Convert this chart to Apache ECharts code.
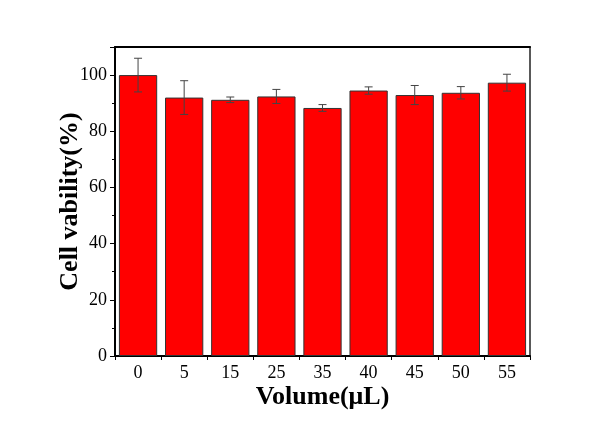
<!DOCTYPE html>
<html>
<head>
<meta charset="utf-8">
<script src="https://cdn.jsdelivr.net/npm/echarts@6/dist/echarts.min.js"></script>
<style>
  html, body { margin: 0; padding: 0; background: #fff; }
  #chart { width: 602px; height: 421px; }
</style>
</head>
<body>
<div id="chart"></div>
<script>
// Sample volumes (µL)
const volumes = ['0', '5', '15', '25', '35', '40', '45', '50', '55'];
// Mean cell viability (%)
const viability = [100.0, 92.0, 91.2, 92.4, 88.3, 94.5, 92.9, 93.7, 97.3];
// Standard deviation (%)
const deviation = [6.0, 6.0, 1.0, 2.5, 1.2, 1.3, 3.4, 2.2, 3.0];
// Y-axis scale
const yMin = 0, yMax = 110, yStep = 20;

const serif = '"Liberation Serif", "Times New Roman", serif';
const errorData = volumes.map((v, i) => [i, viability[i] - deviation[i], viability[i] + deviation[i]]);

const chart = echarts.init(document.getElementById('chart'), null, { renderer: 'canvas' });
chart.setOption({
  backgroundColor: '#fff',
  animation: false,
  grid: { left: 115, right: 72, top: 47, bottom: 65, show: true, borderColor: '#000', borderWidth: 0 },
  xAxis: [
    {
      type: 'category', data: volumes, position: 'bottom',
      name: 'Volume(μL)', nameLocation: 'middle', nameGap: 28, nameMoveOverlap: false,
      nameTextStyle: { fontFamily: serif, fontWeight: 'bold', fontSize: 26, color: '#000' },
      axisLine: { lineStyle: { color: '#000', width: 2 } },
      axisTick: { alignWithLabel: true, inside: false, length: 5, lineStyle: { color: '#000', width: 1 } },
      axisLabel: { fontFamily: serif, fontSize: 18, color: '#000', margin: 8 }
    },
    {
      // boundary ticks between categories
      type: 'category', data: volumes, position: 'bottom', offset: 0,
      axisLine: { show: false },
      axisTick: { show: true, length: 4, lineStyle: { color: '#000', width: 1 } },
      axisLabel: { show: false }
    },
    {
      // top frame line
      type: 'category', data: volumes, position: 'top',
      axisLine: { lineStyle: { color: '#000', width: 2 } },
      axisTick: { show: false }, axisLabel: { show: false }
    }
  ],
  yAxis: [
    {
      type: 'value', min: yMin, max: yMax, interval: yStep,
      name: 'Cell vability(%)', nameLocation: 'middle', nameGap: 32, nameRotate: 90, nameMoveOverlap: false,
      nameTextStyle: { fontFamily: serif, fontWeight: 'bold', fontSize: 26, color: '#000' },
      axisLine: { show: true, lineStyle: { color: '#000', width: 2 } },
      axisTick: { show: true, length: 5, lineStyle: { color: '#000', width: 1 } },
      minorTick: { show: true, splitNumber: 2, length: 3, lineStyle: { color: '#000', width: 1 } },
      axisLabel: { fontFamily: serif, fontSize: 18, color: '#000', margin: 8,
        formatter: v => (v % yStep === 0 ? String(v) : '') },
      splitLine: { show: false }
    },
    {
      // right frame line
      type: 'value', min: yMin, max: yMax, interval: yStep, position: 'right',
      axisLine: { show: true, lineStyle: { color: '#222', width: 1.5 } },
      axisTick: { show: false }, axisLabel: { show: false }, splitLine: { show: false }
    }
  ],
  series: [
    {
      type: 'bar', data: viability, barCategoryGap: '17%',
      itemStyle: { color: '#ff0000', borderColor: '#333', borderWidth: 1 },
      z: 2
    },
    {
      type: 'custom', data: errorData, z: 3,
      renderItem: (params, api) => {
        const x = api.value(0);
        const lo = api.coord([x, api.value(1)]);
        const hi = api.coord([x, api.value(2)]);
        const cap = 4;
        const style = { stroke: '#444', lineWidth: 1 };
        return {
          type: 'group',
          children: [
            { type: 'line', shape: { x1: hi[0], y1: hi[1], x2: lo[0], y2: lo[1] }, style },
            { type: 'line', shape: { x1: hi[0] - cap, y1: hi[1], x2: hi[0] + cap, y2: hi[1] }, style },
            { type: 'line', shape: { x1: lo[0] - cap, y1: lo[1], x2: lo[0] + cap, y2: lo[1] }, style }
          ]
        };
      }
    }
  ]
});
</script>
</body>
</html>
